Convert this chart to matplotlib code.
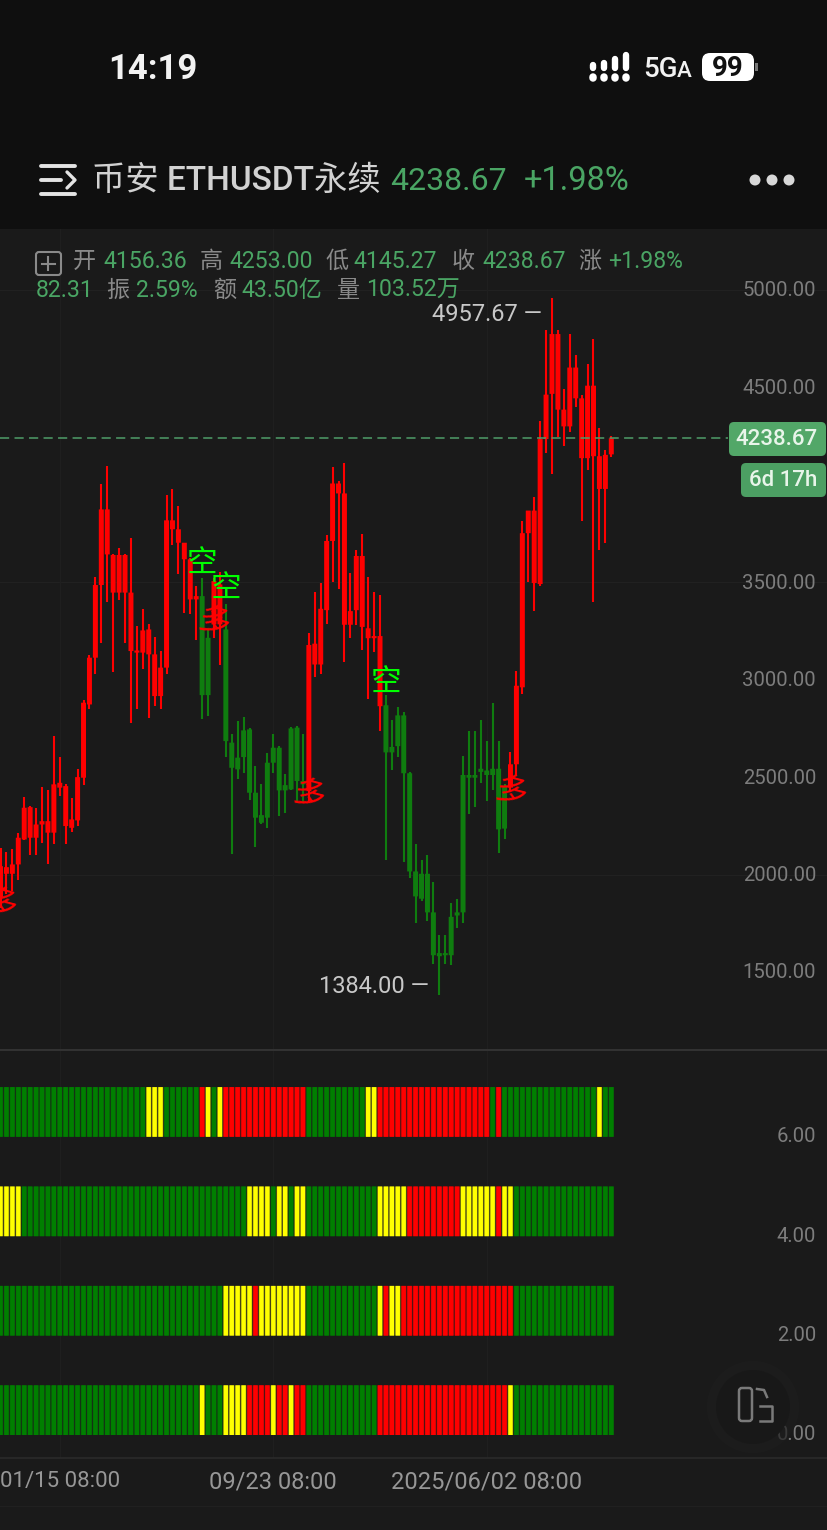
"""
Weekly ETHUSDT candle chart with a four row signal strip below, drawn as the
phone screenshot it came from.
"""
import matplotlib
matplotlib.use("Agg")
import matplotlib.pyplot as plt
from matplotlib.patches import Circle, FancyBboxPatch, Rectangle
from matplotlib.transforms import ScaledTranslation

plt.rcParams["font.family"] = ["Roboto", "Noto Sans CJK SC", "DejaVu Sans"]

highs = [2138, 2117, 2129, 2215, 2398, 2351, 2343, 2451, 2432, 2711, 2603, 2463, 2391, 2540, 2894, 3125, 3527, 4003, 4097, 3643, 3677, 3643, 3729, 3275, 3361, 3284, 3219, 3147, 3948, 3977, 3891, 3703, 3626, 3481, 3523, 3267, 3523, 3554, 3390, 2719, 2788, 2808, 2754, 2557, 2463, 2625, 2723, 2659, 2517, 2757, 2762, 2723, 3241, 3450, 3496, 3742, 4091, 4021, 4114, 3550, 3666, 3747, 3526, 3450, 3433, 2922, 2794, 2859, 2836, 2525, 2155, 2074, 2102, 1962, 1690, 1690, 1853, 1876, 2608, 2736, 2736, 2794, 2683, 2882, 2683, 2464, 2631, 3045, 3817, 3868, 3938, 4328, 4793, 4957.67, 4793, 4491, 4774, 4665, 4463, 4619, 4751, 4293, 4177, 4253]
tops = [2043, 2038, 2052, 2189, 2343, 2346, 2257, 2274, 2274, 2463, 2471, 2454, 2283, 2500, 2882, 3113, 3486, 3874, 3874, 3640, 3640, 3640, 3447, 3150, 3253, 3258, 3130, 3062, 3818, 3818, 3772, 3703, 3618, 3429, 3429, 3215, 3506, 3489, 3258, 2677, 2600, 2740, 2745, 2420, 2305, 2574, 2651, 2651, 2459, 2750, 2754, 2480, 3178, 3185, 3364, 3712, 4007, 4007, 3956, 3352, 3635, 3635, 3264, 3224, 3224, 2869, 2655, 2817, 2817, 2520, 2016, 2004, 2004, 1806, 1597, 1597, 1783, 1806, 2511, 2511, 2511, 2543, 2534, 2543, 2543, 2457, 2566, 2969, 3752, 3868, 3868, 4235, 4463, 4774, 4774, 4386, 4602, 4602, 4444, 4509, 4509, 4147, 4154, 4238.67]
bottoms = [1889, 2004, 2004, 2052, 2180, 2189, 2189, 2257, 2215, 2215, 2446, 2249, 2240, 2278, 2497, 2873, 3113, 3486, 3643, 3447, 3447, 3447, 3147, 3139, 3139, 3130, 2916, 2916, 3062, 3772, 3703, 3618, 3412, 3412, 2921, 2921, 3284, 3284, 2685, 2548, 2540, 2603, 2420, 2292, 2266, 2292, 2574, 2432, 2432, 2437, 2480, 2463, 2428, 3078, 3078, 3357, 3712, 3956, 3282, 3282, 3357, 3271, 3213, 3213, 2864, 2627, 2627, 2659, 2520, 2016, 1888, 1876, 1806, 1586, 1581, 1586, 1586, 1790, 1806, 2497, 2497, 2527, 2511, 2511, 2232, 2236, 2446, 2566, 2961, 3752, 3496, 3491, 4235, 4467, 4386, 4300, 4300, 4444, 4137, 4137, 4147, 3979, 3979, 4156.36]
lows = [1830, 1898, 1915, 1970, 2175, 2100, 2100, 2163, 2055, 2155, 2403, 2155, 2220, 2249, 2459, 2848, 3031, 3190, 3400, 3041, 3407, 3190, 2779, 2848, 3053, 2801, 2865, 2848, 3031, 3691, 3541, 3344, 3335, 3202, 2796, 2813, 3215, 3075, 2603, 2103, 2488, 2523, 2381, 2141, 2261, 2240, 2523, 2300, 2317, 2432, 2369, 2369, 2377, 3015, 3027, 3287, 3503, 3468, 3092, 3213, 3282, 3154, 2899, 3143, 2736, 2074, 2539, 2604, 2062, 1981, 1753, 1865, 1760, 1539, 1384, 1539, 1535, 1725, 1753, 2311, 2348, 2469, 2376, 2434, 2109, 2185, 2422, 2504, 2929, 3503, 3352, 3480, 4165, 4054, 4247, 4200, 4270, 4398, 3817, 4077, 3398, 3666, 3701, 4145.27]
candle_runs = [("r", 34), ("g", 2), ("r", 2), ("g", 14), ("r", 13), ("g", 21), ("r", 18)]

strip_6 = [("g", 25), ("y", 3), ("g", 6), ("r", 1), ("y", 1), ("g", 1), ("y", 1), ("r", 14), ("g", 10), ("y", 2), ("r", 19), ("g", 1), ("r", 1), ("g", 16), ("y", 1), ("g", 2)]
strip_4 = [("y", 4), ("g", 38), ("y", 4), ("g", 1), ("y", 2), ("g", 1), ("y", 2), ("g", 12), ("y", 5), ("r", 9), ("y", 6), ("r", 1), ("y", 2), ("g", 17)]
strip_2 = [("g", 38), ("y", 5), ("r", 1), ("y", 8), ("g", 12), ("y", 1), ("r", 1), ("y", 2), ("r", 19), ("g", 17)]
strip_0 = [("g", 34), ("y", 1), ("g", 3), ("y", 4), ("r", 4), ("y", 1), ("r", 2), ("y", 1), ("r", 2), ("g", 12), ("r", 22), ("y", 1), ("g", 17)]

price_ticks = [5000, 4500, 3500, 3000, 2500, 2000, 1500]
grid_prices = [5000, 3500, 2000]
strip_ticks = [0, 2, 4, 6]
date_idx = [10, 46, 82]
date_labels = ["01/15 08:00", "09/23 08:00", "2025/06/02 08:00"]

last_price = 4238.67
high_price = 4957.67
low_price = 1384.00

short_marks = [(34, 3594), (38, 3461), (65, 2983)]
long_marks = [(36, 3286), (52, 2399), (86, 2414), (0, 1840)]

BG = "#1a1a1a"
TOP_BG = "#0f0f0f"
GREEN_TXT = "#4aa564"
GRAY_TXT = "#7d7d7d"
CANDLE = {"r": "#ff0000", "g": "#0f7d0f"}
CELL = {"g": "#007f00", "r": "#ff0000", "y": "#ffff00"}
CELL_DARK = {"g": "#0b5a0b", "r": "#b00a0a", "y": "#8a8a10"}


def expand(runs):
    out = []
    for colour, count in runs:
        out += [colour] * count
    return out


W, H = 828, 1530
STEP = 5.93
fig = plt.figure(figsize=(W / 100, H / 100), dpi=100, facecolor=BG)
xlim = (-0.5 / STEP, (W - 0.5) / STEP)

# Price pane
ax = fig.add_axes([0, 1 - 1050 / H, 1, (1050 - 229) / H], facecolor=BG)
ax.set_xlim(*xlim)
ax.set_ylim(5000 - (1050 - 290) * 5.132, 5000 + (290 - 229) * 5.132)
idx = list(range(len(highs)))
colours = [CANDLE[c] for c in expand(candle_runs)]
ax.vlines(idx, lows, highs, colors=colours, linewidth=1.5, zorder=3)
bodies = ax.bar(idx, [t - b for t, b in zip(tops, bottoms)], bottom=bottoms, width=0.84,
                color=colours, linewidth=0, zorder=4)
for b in bodies:
    b.set_snap(False)
for g in grid_prices:
    ax.axhline(g, color="#212121", lw=0.8, zorder=1)
for i in date_idx:
    ax.axvline(i, color="#1f1f1f", lw=0.8, zorder=1)
ax.axhline(last_price, xmax=728 / W, color="#4f9d69", lw=1.1, dashes=(6, 3.5), zorder=5)

ax.yaxis.tick_right()
ax.set_yticks(price_ticks)
ax.set_yticklabels([f"{p:.2f}" for p in price_ticks])
ax.tick_params(axis="y", length=0, pad=-8.6, labelsize=14.6, labelcolor=GRAY_TXT)
nudge = ScaledTranslation(0, 1 / 100, fig.dpi_scale_trans)
for lab in ax.get_yticklabels():
    lab.set_horizontalalignment("right")
    lab.set_transform(lab.get_transform() + nudge)
ax.set_xticks([])
for s in ax.spines.values():
    s.set_visible(False)

for i, p in short_marks:
    ax.text(i, p, "空", color="#00ff00", fontsize=22, fontweight="light", ha="center",
            va="center", zorder=6)
for i, p in long_marks:
    ax.text(i, p, "多", color="#ff0000", fontsize=23, fontweight="light", ha="center",
            va="center", rotation=-15, zorder=6)
ax.text(91.3, high_price - 85, f"{high_price:.2f} —", color="#c8c8c8", fontsize=17, ha="right",
        va="center", zorder=6)
ax.text(72.3, low_price + 40, f"{low_price:.2f} —", color="#c8c8c8", fontsize=17, ha="right",
        va="center", zorder=6)

# Signal strips
ax2 = fig.add_axes([0, 1 - 1458 / H, 1, (1458 - 1051) / H], facecolor=BG)
ax2.set_xlim(*xlim)
ax2.set_ylim(-23 / 49.7, 384 / 49.7)
for base, runs in zip(strip_ticks, [strip_0, strip_2, strip_4, strip_6]):
    row = expand(runs)
    under = ax2.bar(idx, [1] * len(row), bottom=base, width=0.9, color=[CELL_DARK[c] for c in row],
                    linewidth=0, zorder=2)
    over = ax2.bar(idx, [1] * len(row), bottom=base, width=0.72, color=[CELL[c] for c in row],
                   linewidth=0, zorder=3)
    for b in list(under) + list(over):
        b.set_snap(False)
ax2.yaxis.tick_right()
ax2.set_yticks(strip_ticks)
ax2.set_yticklabels([f"{v:.2f}" for v in strip_ticks])
ax2.tick_params(axis="y", length=0, pad=-8.6, labelsize=14.6, labelcolor=GRAY_TXT)
lift = ScaledTranslation(0, 2 / 100, fig.dpi_scale_trans)
for lab in ax2.get_yticklabels():
    lab.set_horizontalalignment("right")
    lab.set_transform(lab.get_transform() + lift)
ax2.set_xticks(date_idx)
ax2.set_xticklabels(date_labels)
ax2.tick_params(axis="x", length=0, pad=9, labelsize=17, labelcolor="#979797")
ax2.get_xticklabels()[0].set_fontsize(16)
for i in date_idx:
    ax2.axvline(i, color="#1f1f1f", lw=0.8, zorder=1)
for s in ax2.spines.values():
    s.set_visible(False)

# Phone chrome in pixel coordinates
ui = fig.add_axes([0, 0, 1, 1], facecolor="none", zorder=10)
ui.set_xlim(0, W)
ui.set_ylim(H, 0)
ui.axis("off")
ui.add_patch(Rectangle((0, 0), W, 229, color=TOP_BG, lw=0))
ui.plot([0, W], [1050, 1050], color="#333333", lw=1.4)
ui.plot([0, W], [1458, 1458], color="#2a2a2a", lw=1.2)
ui.plot([0, W], [1506, 1506], color="#202020", lw=0.8)


def label(x, y, s, color, size, ha="left", weight="normal"):
    ui.text(x, y, s, color=color, fontsize=size, ha=ha, va="center", fontweight=weight)


label(108.5, 69, "14:19", "#f2f2f2", 25, weight="bold")
for x, top in zip([593, 604, 615, 626], [65, 63, 59, 55]):
    ui.plot([x, x], [top, 68], color="white", lw=4.6, solid_capstyle="round")
    ui.plot([x, x], [77, 78], color="white", lw=5.4, solid_capstyle="round")
label(643, 69, "5G", "#f2f2f2", 20, weight="medium")
label(677, 71, "A", "#f2f2f2", 16, weight="medium")
ui.add_patch(FancyBboxPatch((702, 53), 52, 28, boxstyle="round,pad=0,rounding_size=8", color="white", lw=0))
ui.add_patch(Rectangle((755, 63), 3, 8, color="#777777", lw=0))
label(728, 68, "99", "#111111", 20, ha="center", weight="bold")

# Menu icon and title row
for y, x1 in [(166, 75), (194, 75), (180, 61)]:
    ui.plot([41, x1], [y, y], color="#e4e4e4", lw=2.8, solid_capstyle="round")
ui.plot([67, 75, 67], [172, 180, 188], color="#e4e4e4", lw=2.4, solid_capstyle="round")
label(92, 181, "币安 ETHUSDT永续", "#d2d2d2", 24, weight="medium")
label(390, 181, "4238.67", GREEN_TXT, 23)
label(524, 181, "+1.98%", GREEN_TXT, 23.5)
for x in [755, 772, 789]:
    ui.add_patch(Circle((x, 180), 5.5, color="#d8d8d8", lw=0))

# OHLC read out
ui.add_patch(FancyBboxPatch((36, 252), 25, 23, boxstyle="round,pad=0,rounding_size=3", fc="none",
                            ec="#8a8a8a", lw=1.5))
ui.plot([42, 55], [263.5, 263.5], color="#8a8a8a", lw=1.5)
ui.plot([48.5, 48.5], [257, 270], color="#8a8a8a", lw=1.5)
row1 = [(73, "开", 0), (103, "4156.36", 1), (200, "高", 0), (229, "4253.00", 1), (325, "低", 0),
        (353, "4145.27", 1), (452, "收", 0), (482, "4238.67", 1), (578, "涨", 0), (608, "+1.98%", 1)]
row2 = [(36, "82.31", 1), (106, "振", 0), (136, "2.59%", 1), (213, "额", 0), (241, "43.50亿", 1),
        (337, "量", 0), (366, "103.52万", 1)]
for y, row in [(261, row1), (290, row2)]:
    for x, s, is_val in row:
        label(x, y, s, GREEN_TXT if is_val else "#8a8a8a", 16.6)

# Last price tags
ui.add_patch(FancyBboxPatch((729, 422), 97, 34, boxstyle="round,pad=0,rounding_size=5", color="#52a768", lw=0))
label(776, 439, "4238.67", "#e8f5ea", 16, ha="center", weight="medium")
ui.add_patch(FancyBboxPatch((741, 463), 85, 34, boxstyle="round,pad=0,rounding_size=5", color="#4c9f63", lw=0))
label(783, 480, "6d 17h", "#e8f5ea", 16, ha="center", weight="medium")

# Floating button
ui.add_patch(Circle((753, 1407), 46, color="#1e1e1e", lw=0, alpha=0.7))
ui.add_patch(Circle((753, 1407), 37, color="#181818", lw=0))
ui.add_patch(FancyBboxPatch((739, 1388), 13, 33, boxstyle="round,pad=0,rounding_size=3", fc="none",
                            ec="#7a7a7a", lw=1.8))
ui.plot([760, 772, 772, 760], [1406, 1406, 1421, 1421], color="#7a7a7a", lw=1.8)
ui.plot([757, 764, 767], [1389, 1390, 1397], color="#7a7a7a", lw=1.8)

fig.savefig("out.png", dpi=100, facecolor=BG)
